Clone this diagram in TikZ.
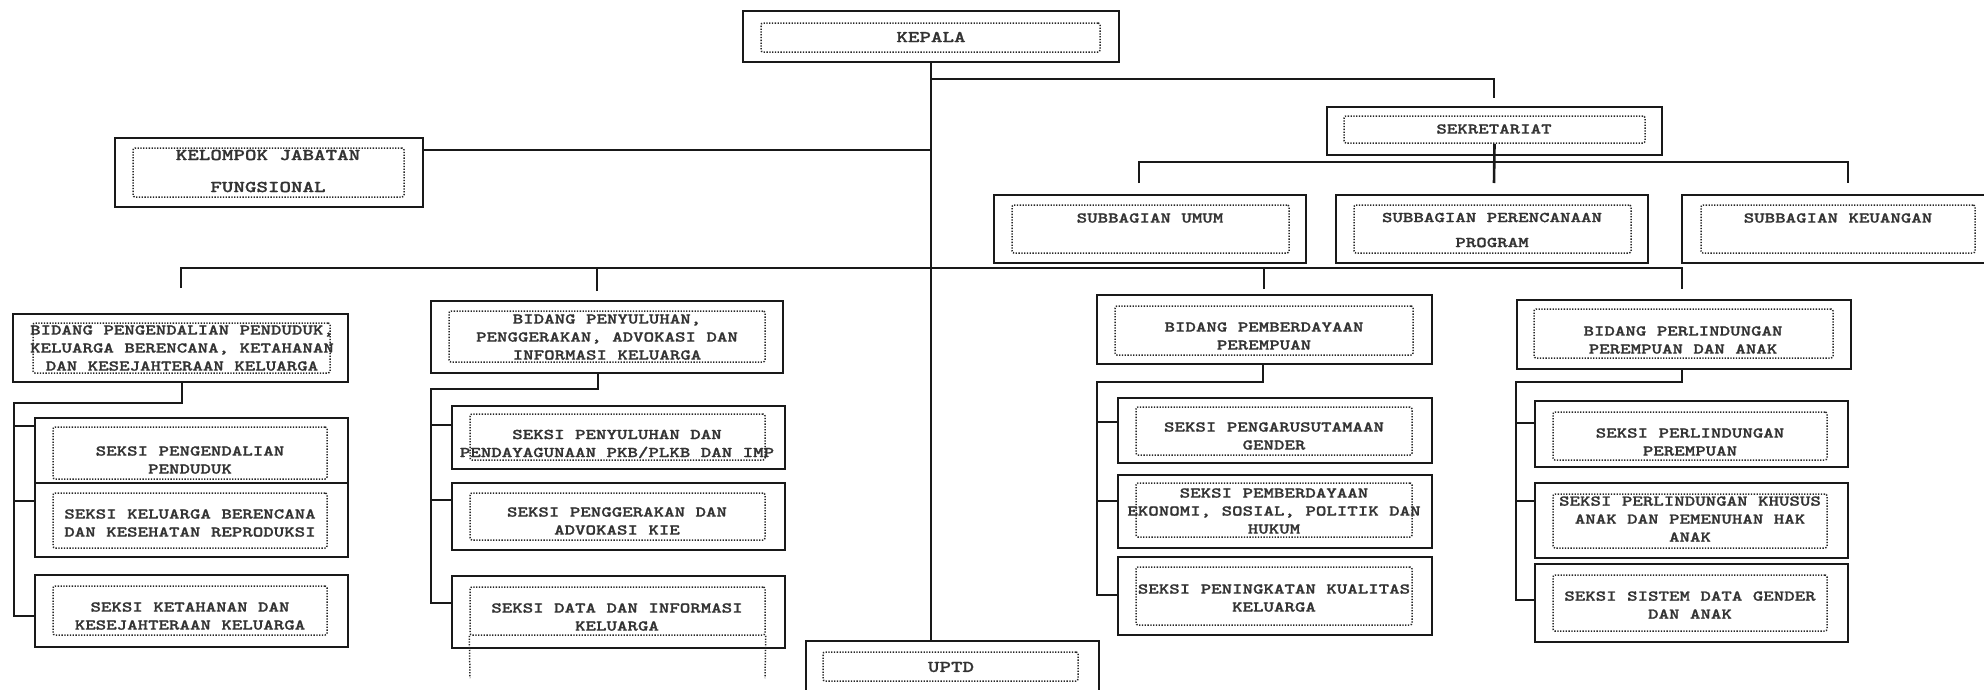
\documentclass[tikz,border=0pt]{standalone}
\usepackage{fontspec}
\newfontfamily\orgf{lmmonolt10-bold.otf}[FakeStretch=1.33,FakeBold=1.2]
\newcommand\obox[5]{%
 \pgfmathsetmacro\orgW{#4-#2}\pgfmathsetmacro\orgH{#5-#3}%
 \pgfmathsetmacro\orgX{(#2+#4)/2}\pgfmathsetmacro\orgY{(#3+#5)/2}%
 \node[outerbox, minimum width=\orgW pt, minimum height=\orgH pt] (#1) at (\orgX,\orgY) {};}
\newcommand\ibox[5]{%
 \pgfmathsetmacro\orgW{#4-#2}\pgfmathsetmacro\orgH{#5-#3}%
 \pgfmathsetmacro\orgX{(#2+#4)/2}\pgfmathsetmacro\orgY{(#3+#5)/2}%
 \node[innerbox, minimum width=\orgW pt, minimum height=\orgH pt] (#1) at (\orgX,\orgY) {};}
\begin{document}
\begin{tikzpicture}[x=1pt,y=-1pt,
 outerbox/.style={draw=black!90, line width=2.6pt, rectangle, inner sep=0pt},
 innerbox/.style={draw=black!85, line width=1.5pt, dash pattern=on 1.3pt off 1.5pt, rectangle, rounded corners=2pt, inner sep=0pt},
 lbl/.style={align=center, inner sep=0pt, font=\orgf\fontsize{15}{18}\selectfont, text=black!80},
 biglbl/.style={lbl, font=\orgf\fontsize{16.5}{18}\selectfont},
 conn/.style={draw=black!90, line width=2.6pt}]
\useasboundingbox (0,0) rectangle (1984,689);
\clip (0,0) rectangle (1984,689);

% ---- top
\obox{kep}{743}{11}{1119}{62}
\ibox{kep-in}{761}{23}{1100}{52}
\node[biglbl] (kep-t) at (931,37) {KEPALA};

\obox{sek}{1327}{107}{1662}{155}
\ibox{sek-in}{1344}{116}{1645}{143}
\node[lbl] (sek-t) at (1494,129) {SEKRETARIAT};

\obox{kel}{115}{138}{423}{207}
\ibox{kel-in}{133}{148}{404}{197}
\node[biglbl] (kel-t) at (268,171) {KELOMPOK JABATAN\\[14pt]FUNGSIONAL};

% ---- subbagian
\obox{sum}{994}{195}{1306}{263}
\ibox{sum-in}{1012}{205}{1289}{253}
\node[lbl] (sum-t) at (1150,218) {SUBBAGIAN UMUM};

\obox{spp}{1336}{195}{1648}{263}
\ibox{spp-in}{1354}{205}{1631}{253}
\node[lbl] (spp-t) at (1492,230) {SUBBAGIAN PERENCANAAN\\[7pt]PROGRAM};

\obox{sku}{1682}{195}{1990}{263}
\ibox{sku-in}{1701}{205}{1975}{253}
\node[lbl] (sku-t) at (1838,218) {SUBBAGIAN KEUANGAN};

% ---- bidang
\obox{b1}{13}{314}{348}{382}
\ibox{b1-in}{33}{323}{330}{373}
\node[lbl] (b1-t) at (182,348) {BIDANG PENGENDALIAN PENDUDUK,\\KELUARGA BERENCANA, KETAHANAN\\DAN KESEJAHTERAAN KELUARGA};

\obox{b2}{431}{301}{783}{373}
\ibox{b2-in}{449}{311}{765}{362}
\node[lbl] (b2-t) at (607,337) {BIDANG PENYULUHAN,\\PENGGERAKAN, ADVOKASI DAN\\INFORMASI KELUARGA};

\obox{b3}{1097}{295}{1432}{364}
\ibox{b3-in}{1115}{306}{1413}{355}
\node[lbl] (b3-t) at (1264,336) {BIDANG  PEMBERDAYAAN\\PEREMPUAN};

\obox{b4}{1517}{300}{1851}{369}
\ibox{b4-in}{1534}{309}{1833}{358}
\node[lbl] (b4-t) at (1683,340) {BIDANG PERLINDUNGAN\\PEREMPUAN  DAN ANAK};

% ---- seksi column 1
\obox{s1a}{35}{418}{348}{483}
\ibox{s1a-in}{53}{427}{327}{479}
\node[lbl] (s1a-t) at (190,460) {SEKSI PENGENDALIAN\\PENDUDUK};
\obox{s1b}{35}{483}{348}{557}
\ibox{s1b-in}{53}{493}{327}{548}
\node[lbl] (s1b-t) at (190,523) {SEKSI KELUARGA BERENCANA\\DAN KESEHATAN REPRODUKSI};
\obox{s1c}{35}{575}{348}{647}
\ibox{s1c-in}{53}{586}{327}{635}
\node[lbl] (s1c-t) at (190,616) {SEKSI KETAHANAN DAN\\KESEJAHTERAAN KELUARGA};

% ---- seksi column 2
\obox{s2a}{452}{406}{785}{469}
\ibox{s2a-in}{470}{414}{765}{460}
\node[lbl] (s2a-t) at (617,444) {SEKSI PENYULUHAN DAN\\PENDAYAGUNAAN PKB/PLKB DAN IMP};
\obox{s2b}{452}{483}{785}{550}
\ibox{s2b-in}{470}{493}{765}{540}
\node[lbl] (s2b-t) at (617,521) {SEKSI PENGGERAKAN DAN\\ADVOKASI KIE};
\obox{s2c}{452}{576}{785}{648}
\ibox{s2c-in}{470}{587}{765}{635}
\node[lbl] (s2c-t) at (617,617) {SEKSI DATA DAN INFORMASI\\KELUARGA};
\coordinate (s2c-l) at (470,678);
\coordinate (s2c-r) at (765,678);
\draw[innerbox] (s2c-in.south west) -- (s2c-l);
\draw[innerbox] (s2c-in.south east) -- (s2c-r);

% ---- seksi column 3
\obox{s3a}{1118}{398}{1432}{463}
\ibox{s3a-in}{1136}{407}{1412}{455}
\node[lbl] (s3a-t) at (1274,436) {SEKSI PENGARUSUTAMAAN\\GENDER};
\obox{s3b}{1118}{475}{1432}{548}
\ibox{s3b-in}{1136}{483}{1412}{537}
\node[lbl] (s3b-t) at (1274,511) {SEKSI PEMBERDAYAAN\\EKONOMI, SOSIAL, POLITIK DAN\\HUKUM};
\obox{s3c}{1118}{557}{1432}{635}
\ibox{s3c-in}{1136}{567}{1412}{625}
\node[lbl] (s3c-t) at (1274,598) {SEKSI PENINGKATAN KUALITAS\\KELUARGA};

% ---- seksi column 4
\obox{s4a}{1535}{401}{1848}{467}
\ibox{s4a-in}{1553}{412}{1827}{460}
\node[lbl] (s4a-t) at (1690,442) {SEKSI PERLINDUNGAN\\PEREMPUAN};
\obox{s4b}{1535}{483}{1848}{558}
\ibox{s4b-in}{1553}{494}{1827}{548}
\node[lbl] (s4b-t) at (1690,519) {SEKSI PERLINDUNGAN KHUSUS\\ANAK DAN PEMENUHAN HAK\\ANAK};
\obox{s4c}{1535}{564}{1848}{642}
\ibox{s4c-in}{1553}{575}{1827}{631}
\node[lbl] (s4c-t) at (1690,605) {SEKSI SISTEM DATA GENDER\\DAN ANAK};

% ---- uptd
\obox{uptd}{806}{641}{1099}{705}
\ibox{uptd-in}{823}{652}{1078}{681}
\node[biglbl] (uptd-t) at (951,667) {UPTD};

% ---- connectors: trunk and top level
\coordinate (js) at (931,79);
\coordinate (sekd) at (1494,98);
\coordinate (kelj) at (931,150);
\draw[conn] (kep.south) -- (kep.south |- uptd.north);
\draw[conn] (js) -| (sekd);
\draw[conn] (kel.east |- kelj) -- (kelj);

% sekretariat to subbagian
\coordinate (sekm) at (1494,183);
\coordinate (subh) at (1494,162);
\coordinate (subl) at (1139,183);
\coordinate (subr) at (1848,183);
\draw[conn] (sek-in.south) -- (sekm);
\draw[conn] (subl) |- (subh) -| (subr);

% bidang row
\coordinate (bh) at (931,268);
\coordinate (bl) at (181,288);
\coordinate (b2d) at (597,291);
\coordinate (b3d) at (1264,289);
\coordinate (b4d) at (1682,289);
\draw[conn] (bl) |- (bh) -| (b4d);
\draw[conn] (b2d) -- (b2d |- bh);
\draw[conn] (b3d) -- (b3d |- bh);

% column 1
\coordinate (c1a) at (182,403);
\coordinate (c1s) at (14,616);
\coordinate (c1t1) at (14,426);
\coordinate (c1t2) at (14,501);
\draw[conn] (b1.south -| c1a) -- (c1a) -| (c1s) -- (s1c.west |- c1s);
\draw[conn] (c1t1) -- (s1a.west |- c1t1);
\draw[conn] (c1t2) -- (s1b.west |- c1t2);
% column 2
\coordinate (c2a) at (598,389);
\coordinate (c2s) at (431,603);
\coordinate (c2t1) at (431,425);
\coordinate (c2t2) at (431,500);
\draw[conn] (b2.south -| c2a) -- (c2a) -| (c2s) -- (s2c.west |- c2s);
\draw[conn] (c2t1) -- (s2a.west |- c2t1);
\draw[conn] (c2t2) -- (s2b.west |- c2t2);
% column 3
\coordinate (c3a) at (1263,382);
\coordinate (c3s) at (1097,595);
\coordinate (c3t1) at (1097,422);
\coordinate (c3t2) at (1097,501);
\draw[conn] (b3.south -| c3a) -- (c3a) -| (c3s) -- (s3c.west |- c3s);
\draw[conn] (c3t1) -- (s3a.west |- c3t1);
\draw[conn] (c3t2) -- (s3b.west |- c3t2);
% column 4
\coordinate (c4a) at (1682,382);
\coordinate (c4s) at (1516,600);
\coordinate (c4t1) at (1516,423);
\coordinate (c4t2) at (1516,501);
\draw[conn] (b4.south -| c4a) -- (c4a) -| (c4s) -- (s4c.west |- c4s);
\draw[conn] (c4t1) -- (s4a.west |- c4t1);
\draw[conn] (c4t2) -- (s4b.west |- c4t2);
\end{tikzpicture}
\end{document}
